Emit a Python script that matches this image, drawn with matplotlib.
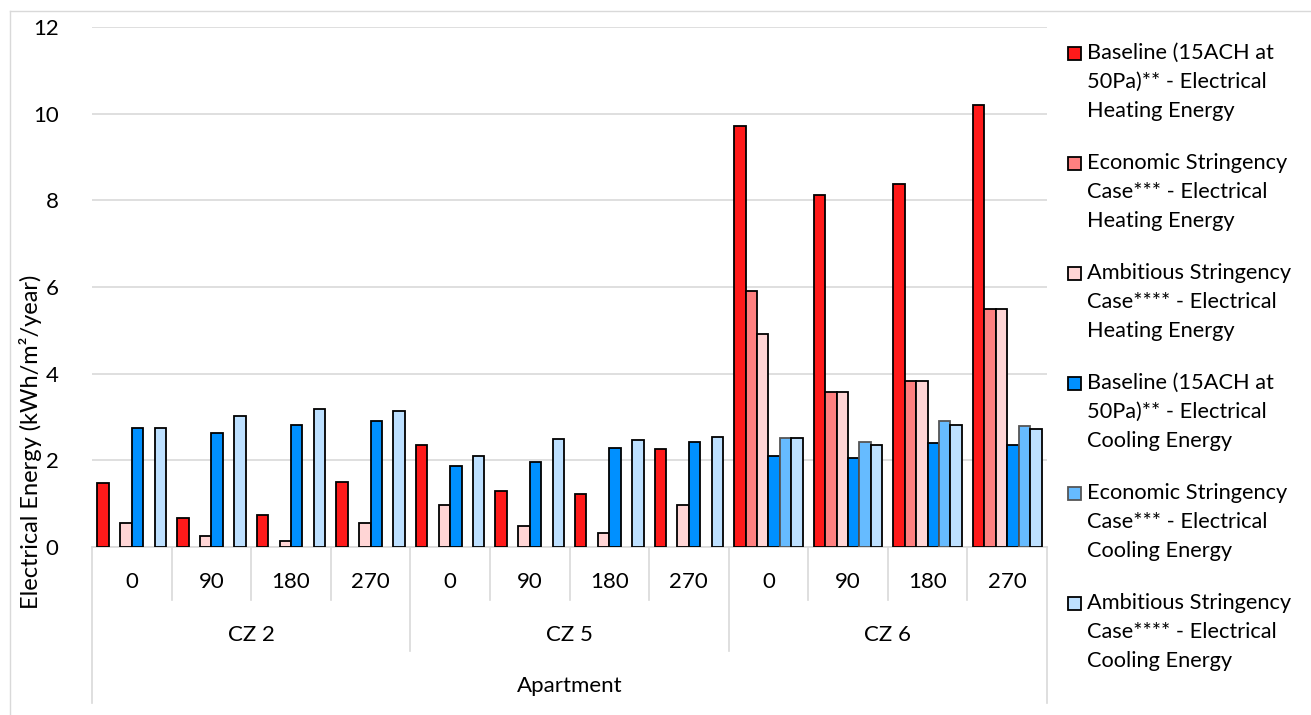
import numpy as np
import matplotlib.pyplot as plt
from matplotlib.patches import Rectangle
from matplotlib.lines import Line2D

plt.rcParams['font.family'] = ['Lato', 'DejaVu Sans']

nan = np.nan
orientations = ['0', '90', '180', '270'] * 3
zones = ['CZ 2', 'CZ 5', 'CZ 6']
outer_label = 'Apartment'

series_names = [
    'Baseline (15ACH at\n50Pa)** - Electrical\nHeating Energy',
    'Economic Stringency\nCase*** - Electrical\nHeating Energy',
    'Ambitious Stringency\nCase**** - Electrical\nHeating Energy',
    'Baseline (15ACH at\n50Pa)** - Electrical\nCooling Energy',
    'Economic Stringency\nCase*** - Electrical\nCooling Energy',
    'Ambitious Stringency\nCase**** - Electrical\nCooling Energy',
]
base_heat = [1.47, 0.66, 0.74, 1.49, 2.35, 1.30, 1.22, 2.27, 9.72, 8.12, 8.38, 10.2]
econ_heat = [nan] * 8 + [5.90, 3.58, 3.84, 5.50]
amb_heat = [0.56, 0.26, 0.13, 0.55, 0.97, 0.48, 0.32, 0.97, 4.92, 3.58, 3.84, 5.50]
base_cool = [2.74, 2.64, 2.82, 2.91, 1.88, 1.97, 2.28, 2.43, 2.09, 2.05, 2.39, 2.35]
econ_cool = [nan] * 8 + [2.52, 2.43, 2.91, 2.80]
amb_cool = [2.74, 3.02, 3.19, 3.14, 2.11, 2.50, 2.46, 2.54, 2.52, 2.36, 2.82, 2.72]
series = [base_heat, econ_heat, amb_heat, base_cool, econ_cool, amb_cool]

colors = ['#FF1A1A', '#FF8080', '#FFD5D5', '#0090FF', '#66BBFF', '#BDE0FF']
edges = ['black', 'black', 'black', 'black', '#555555', 'black']

W, H = 1311, 715
fig = plt.figure(figsize=(W / 100, H / 100), dpi=100)
ax = fig.add_axes([92 / W, 1 - 547 / H, (1047 - 92) / W, (547 - 27) / H])

x = np.arange(len(orientations))
bw = 1 / (6 + 0.96)
for k, vals in enumerate(series):
    ax.bar(x + (k - 2.5) * bw, vals, bw, color=colors[k], edgecolor=edges[k],
           linewidth=1.3, zorder=3)

ax.set_xlim(-0.5, len(orientations) - 0.5)
ax.set_ylim(0, 12)
ax.set_yticks(range(0, 13, 2))
ax.tick_params(axis='y', length=0, pad=24, labelsize=16)
ax.set_xticks([])
ax.grid(axis='y', color='#D9D9D9', linewidth=1.2, zorder=0)
for s in ['top', 'right', 'left']:
    ax.spines[s].set_visible(False)
ax.spines['bottom'].set_color('#D9D9D9')
ax.spines['bottom'].set_linewidth(1.2)
ax.set_ylabel('Electrical Energy (kWh/m²/year)', fontsize=17)
ax.yaxis.set_label_coords((42 - 92) / 955, (547 - 442) / 520)

# multi-level category axis
tr = ax.get_xaxis_transform()
ah = (547 - 27)
def fy(px):
    return -(px - 547) / ah

for i, lab in enumerate(orientations):
    ax.text(i, fy(582), lab, transform=tr, ha='center', va='center', fontsize=16)
for j, z in enumerate(zones):
    ax.text(4 * j + 1.5, fy(635), z, transform=tr, ha='center', va='center', fontsize=16)
ax.text((len(orientations) - 1) / 2, fy(686), outer_label, transform=tr,
        ha='center', va='center', fontsize=16)

for b in range(len(orientations) + 1):
    xb = b - 0.5
    if b == 0 or b == len(orientations):
        y1 = fy(703)
    elif b % 4 == 0:
        y1 = fy(651)
    else:
        y1 = fy(600)
    ax.add_line(Line2D([xb, xb], [0, y1], transform=tr, color='#D9D9D9',
                       linewidth=1.2, clip_on=False))

# legend
for k, name in enumerate(series_names):
    y0 = 53 + 110 * k
    fig.add_artist(Rectangle((1068 / W, 1 - (y0 + 7) / H), 13 / W, 13 / H,
                             transform=fig.transFigure, facecolor=colors[k],
                             edgecolor=edges[k], linewidth=1.3))
    for n, line in enumerate(name.split('\n')):
        fig.text(1087 / W, 1 - (y0 + 29 * n) / H, line, ha='left', va='center',
                 fontsize=15.7)

# chart area border
fig.add_artist(Line2D([10 / W, 10 / W], [0, 1 - 11 / H], transform=fig.transFigure,
                      color='#D9D9D9', linewidth=1))
fig.add_artist(Line2D([10 / W, 1], [1 - 11 / H, 1 - 11 / H], transform=fig.transFigure,
                      color='#D9D9D9', linewidth=1))

fig.savefig('out.png', dpi=100)
